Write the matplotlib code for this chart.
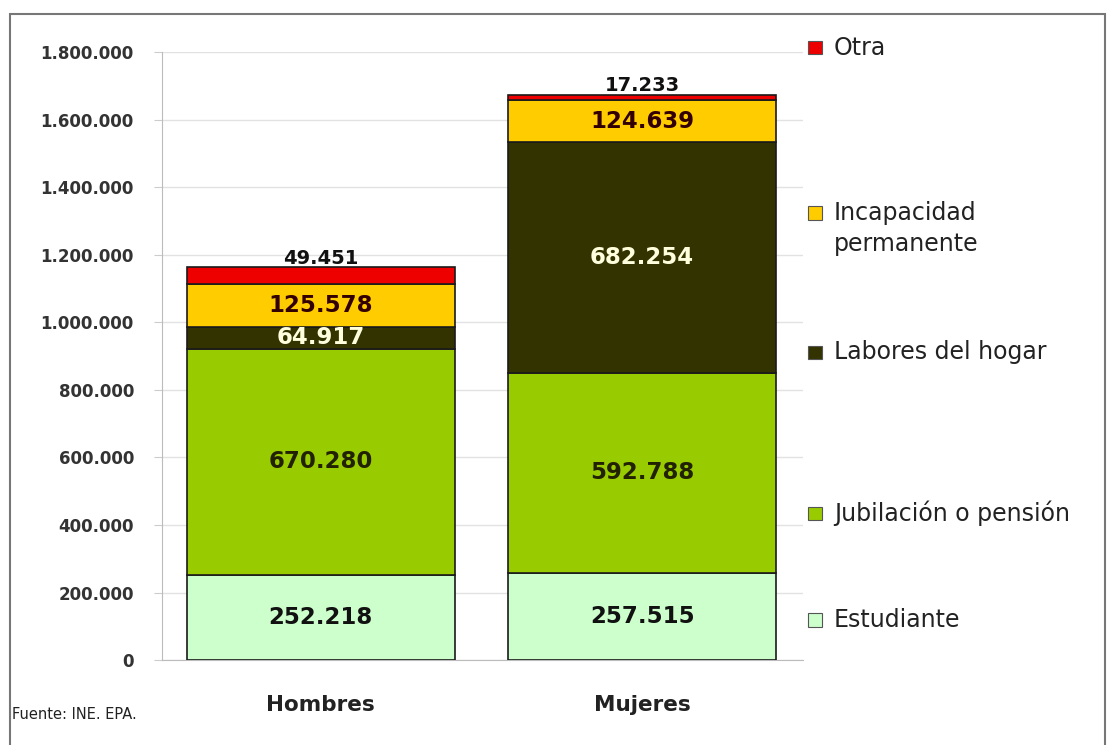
import numpy as np
import matplotlib.pyplot as plt
from matplotlib.patches import Rectangle
from matplotlib.ticker import FuncFormatter

plt.rcParams['font.family'] = ['DejaVu Sans']

categories = ['Hombres', 'Mujeres']
series_names = ['Estudiante', 'Jubilación o pensión', 'Labores del hogar',
                'Incapacidad\npermanente', 'Otra']
estudiante = [252218, 257515]
jubilacion = [670280, 592788]
labores = [64917, 682254]
incapacidad = [125578, 124639]
otra = [49451, 17233]
yticks = [0, 200000, 400000, 600000, 800000, 1000000, 1200000, 1400000, 1600000, 1800000]

series = [estudiante, jubilacion, labores, incapacidad, otra]
colors = ['#ccffcc', '#99cc00', '#333300', '#ffcc00', '#ee0000']
label_colors = ['#111111', '#222200', '#ffffdd', '#330000', '#111111']

def fmt(v, pos=None):
    return f"{int(v):,}".replace(",", ".")

fig = plt.figure(figsize=(11.15, 7.45), dpi=100)
ax = fig.add_axes([0.145, 0.114, 0.575, 0.816])

x = np.arange(len(categories))
bottom = np.zeros(len(categories))
for vals, col, lc, name in zip(series, colors, label_colors, series_names):
    bars = ax.bar(x, vals, 0.835, bottom=bottom, color=col, edgecolor='#1a1a1a',
                  linewidth=1.2, zorder=3)
    for i, b in enumerate(bars):
        if name == 'Otra':
            # label sits just above the thin top segment
            ax.annotate(fmt(vals[i]), (b.get_x() + b.get_width() / 2, bottom[i] + vals[i]),
                        xytext=(0, 6.5), textcoords='offset points', ha='center', va='center',
                        fontsize=14, fontweight='bold', color=lc, zorder=5)
        else:
            ax.text(b.get_x() + b.get_width() / 2, bottom[i] + vals[i] / 2, fmt(vals[i]),
                    ha='center', va='center', fontsize=16.5, fontweight='bold', color=lc, zorder=5)
    bottom += np.array(vals)

ax.set_xlim(-0.495, 1.5)
ax.set_ylim(0, 1800000)
ax.set_yticks(yticks)
ax.yaxis.set_major_formatter(FuncFormatter(fmt))
ax.set_xticks(x)
ax.set_xticklabels(categories, fontsize=15.5, fontweight='bold', color='#222222')
ax.tick_params(axis='x', length=0, pad=25)
ax.tick_params(axis='y', length=6, color='#cccccc', labelsize=12, labelcolor='#333333', pad=14)
for lab in ax.get_yticklabels():
    lab.set_fontweight('bold')
ax.grid(axis='y', color='#e2e2e2', linewidth=1.0, zorder=0)
for s in ['top', 'right']:
    ax.spines[s].set_visible(False)
ax.spines['left'].set_color('#bbbbbb')
ax.spines['bottom'].set_color('#bbbbbb')

# manual legend (uneven spacing as in the original)
leg_y = [0.168, 0.311, 0.527, 0.714, 0.936]
for name, col, yy in zip(series_names, colors, leg_y):
    fig.patches.append(Rectangle((0.725, yy - 0.009), 0.012, 0.018, transform=fig.transFigure,
                                 facecolor=col, edgecolor='#555555', linewidth=0.8))
    lines = name.split('\n')
    for k, ln in enumerate(lines):
        fig.text(0.748, yy - k * 0.041, ln, fontsize=17, color='#222222', va='center')

fig.text(0.011, 0.035, 'Fuente: INE. EPA.', fontsize=10.5, color='#222222')
fig.patches.append(Rectangle((0.009, -0.01), 0.982, 0.991, transform=fig.transFigure,
                             facecolor='none', edgecolor='#777777', linewidth=1.5))

fig.savefig('out.png', dpi=100)
